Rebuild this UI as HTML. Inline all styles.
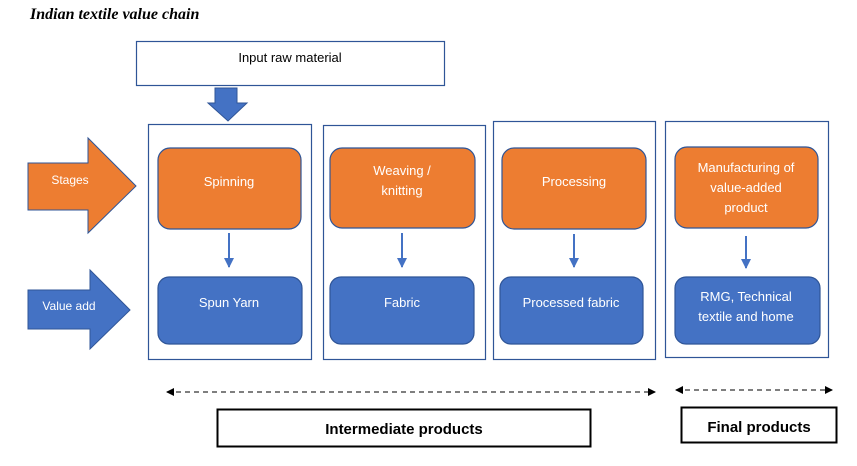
<!DOCTYPE html>
<html><head><meta charset="utf-8"><style>
body{margin:0;background:#fff}
svg{display:block}
text{font-family:"Liberation Sans",sans-serif}
</style></head><body>
<svg width="857" height="466" viewBox="0 0 857 466" xmlns="http://www.w3.org/2000/svg">
<defs>
<marker id="ah" markerWidth="8" markerHeight="8" refX="7" refY="4" orient="auto-start-reverse" markerUnits="userSpaceOnUse"><path d="M0,0 L8,4 L0,8 z" fill="#000"/></marker>
<marker id="bh" markerWidth="10" markerHeight="10" refX="9" refY="5" orient="auto" markerUnits="userSpaceOnUse"><path d="M0,0 L10,5 L0,10 z" fill="#4472C4"/></marker>
</defs>
<text x="30" y="19" font-style="italic" font-weight="bold" font-size="16" style="font-family:'Liberation Serif',serif">Indian textile value chain</text>
<rect x="136.5" y="41.5" width="308" height="44" fill="#fff" stroke="#2F5597" stroke-width="1.2"/>
<text x="290" y="62" font-size="13" text-anchor="middle">Input raw material</text>
<path d="M215,88 H237 V103 H247 L228,121 L208,103 H215 Z" fill="#4472C4" stroke="#2F5597"/>
<g fill="none" stroke="#2F5597" stroke-width="1.2">
<rect x="148.5" y="124.5" width="163" height="235"/>
<rect x="323.5" y="125.5" width="162" height="234"/>
<rect x="493.5" y="121.5" width="162" height="238"/>
<rect x="665.5" y="121.5" width="163" height="236"/>
</g>
<path d="M28,163 H88 V138 L136,186 L88,233 V210 H28 Z" fill="#ED7D31" stroke="#2F5597"/>
<text x="70" y="184" font-size="12" fill="#fff" text-anchor="middle">Stages</text>
<path d="M28,290 H90 V270 L130,310 L90,349 V329 H28 Z" fill="#4472C4" stroke="#2F5597"/>
<text x="69" y="310" font-size="12" fill="#fff" text-anchor="middle">Value add</text>
<g fill="#ED7D31" stroke="#2F5597" stroke-width="1.2">
<rect x="158" y="148" width="143" height="81" rx="12"/>
<rect x="330" y="148" width="145" height="80" rx="12"/>
<rect x="502" y="148" width="144" height="81" rx="12"/>
<rect x="675" y="147" width="143" height="81" rx="12"/>
</g>
<g fill="#4472C4" stroke="#2F5597" stroke-width="1.2">
<rect x="158" y="277" width="144" height="67" rx="11"/>
<rect x="330" y="277" width="144" height="67" rx="11"/>
<rect x="500" y="277" width="143" height="67" rx="11"/>
<rect x="675" y="277" width="145" height="67" rx="11"/>
</g>
<g stroke="#4472C4" stroke-width="2" marker-end="url(#bh)">
<line x1="229" y1="233" x2="229" y2="267"/>
<line x1="402" y1="233" x2="402" y2="267"/>
<line x1="574" y1="234" x2="574" y2="267"/>
<line x1="746" y1="236" x2="746" y2="268"/>
</g>
<g fill="#fff" font-size="13" text-anchor="middle">
<text x="229" y="186">Spinning</text>
<text x="402" y="175">Weaving /</text>
<text x="402" y="195">knitting</text>
<text x="574" y="186">Processing</text>
<text x="746" y="172">Manufacturing of</text>
<text x="746" y="192">value-added</text>
<text x="746" y="212">product</text>
<text x="229" y="307">Spun Yarn</text>
<text x="402" y="307">Fabric</text>
<text x="571" y="307">Processed fabric</text>
<text x="746" y="301">RMG, Technical</text>
<text x="746" y="321">textile and home</text>
</g>
<g stroke="#333" stroke-width="1.2" stroke-dasharray="5,4" marker-start="url(#ah)" marker-end="url(#ah)" fill="none">
<line x1="167" y1="392" x2="655" y2="392"/>
<line x1="676" y1="390" x2="832" y2="390"/>
</g>
<rect x="217.5" y="409.5" width="373" height="37" fill="#fff" stroke="#000" stroke-width="2"/>
<text x="404" y="434" font-size="15" font-weight="bold" text-anchor="middle">Intermediate products</text>
<rect x="681.5" y="407.5" width="155" height="35" fill="#fff" stroke="#000" stroke-width="2"/>
<text x="759" y="432" font-size="15" font-weight="bold" text-anchor="middle">Final products</text>
</svg>
</body></html>
